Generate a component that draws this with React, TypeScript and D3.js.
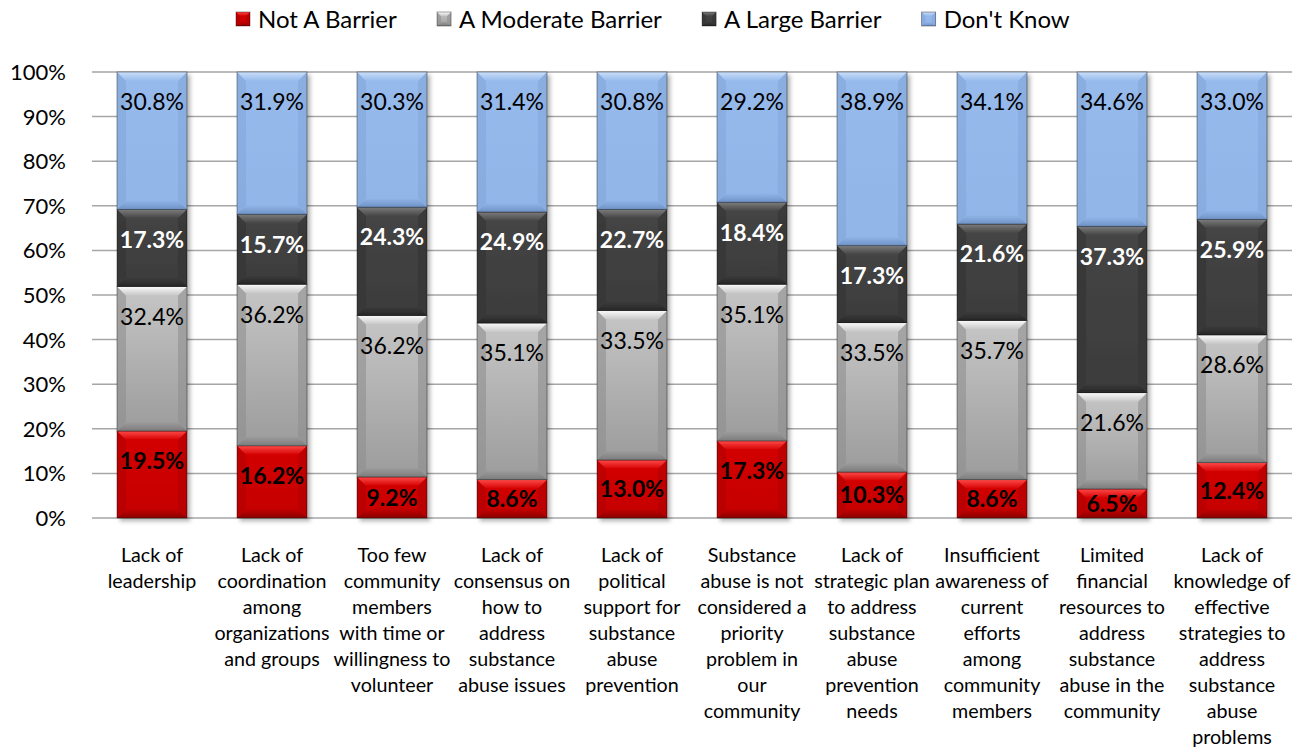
import React, { useEffect, useRef } from 'react';
import * as d3 from 'd3';

// Chart data
const categories: string[][] = [
  ['Lack of', 'leadership'],
  ['Lack of', 'coordination', 'among', 'organizations', 'and groups'],
  ['Too few', 'community', 'members', 'with time or', 'willingness to', 'volunteer'],
  ['Lack of', 'consensus on', 'how to', 'address', 'substance', 'abuse issues'],
  ['Lack of', 'political', 'support for', 'substance', 'abuse', 'prevention'],
  ['Substance', 'abuse is not', 'considered a', 'priority', 'problem in', 'our', 'community'],
  ['Lack of', 'strategic plan', 'to address', 'substance', 'abuse', 'prevention', 'needs'],
  ['Insufficient', 'awareness of', 'current', 'efforts', 'among', 'community', 'members'],
  ['Limited', 'financial', 'resources to', 'address', 'substance', 'abuse in the', 'community'],
  ['Lack of', 'knowledge of', 'effective', 'strategies to', 'address', 'substance', 'abuse', 'problems'],
];

const seriesNames = ['Not A Barrier', 'A Moderate Barrier', 'A Large Barrier', "Don't Know"];

const notABarrier = [19.5, 16.2, 9.2, 8.6, 13.0, 17.3, 10.3, 8.6, 6.5, 12.4];
const moderateBarrier = [32.4, 36.2, 36.2, 35.1, 33.5, 35.1, 33.5, 35.7, 21.6, 28.6];
const largeBarrier = [17.3, 15.7, 24.3, 24.9, 22.7, 18.4, 17.3, 21.6, 37.3, 25.9];
const dontKnow = [30.8, 31.9, 30.3, 31.4, 30.8, 29.2, 38.9, 34.1, 34.6, 33.0];

const yTicks = [0, 0.1, 0.2, 0.3, 0.4, 0.5, 0.6, 0.7, 0.8, 0.9, 1];

// bevel palette per series
const palette = [
  { hi: '#ff4a4a', top: '#d40000', bot: '#c40000', lo: '#8c0000', side: '#b00000', text: '#000', bold: true },
  { hi: '#fbfbfb', top: '#c6c6c6', bot: '#9c9c9c', lo: '#7c7c7c', side: '#8f8f8f', text: '#000', bold: false },
  { hi: '#7c7c7c', top: '#454545', bot: '#3c3c3c', lo: '#262626', side: '#333333', text: '#fff', bold: true },
  { hi: '#c9def9', top: '#97baec', bot: '#92b5e8', lo: '#6f93c6', side: '#84a7da', text: '#000', bold: false },
];

const FONT = 'Lato, "Open Sans", sans-serif';

type Seg = { x: number; y: number; w: number; h: number };

function drawBevel(g: d3.Selection<SVGGElement, unknown, null, undefined>, s: Seg, si: number, bv: number) {
  const p = palette[si];
  const b = Math.min(bv, s.h / 2);
  const { x, y, w, h } = s;
  g.append('rect')
    .attr('x', x).attr('y', y).attr('width', w).attr('height', h)
    .attr('fill', `url(#base-${si})`);
  // sides
  g.append('polygon')
    .attr('points', [[x, y], [x + b, y + b], [x + b, y + h - b], [x, y + h]].join(' '))
    .attr('fill', p.side).attr('opacity', 0.6);
  g.append('polygon')
    .attr('points', [[x + w, y], [x + w - b, y + b], [x + w - b, y + h - b], [x + w, y + h]].join(' '))
    .attr('fill', p.side).attr('opacity', 0.6);
  // top highlight
  g.append('polygon')
    .attr('points', [[x, y], [x + w, y], [x + w - b, y + b], [x + b, y + b]].join(' '))
    .attr('fill', `url(#hi-${si})`);
  // bottom shade
  g.append('polygon')
    .attr('points', [[x, y + h], [x + w, y + h], [x + w - b, y + h - b], [x + b, y + h - b]].join(' '))
    .attr('fill', `url(#lo-${si})`);
  g.append('rect')
    .attr('x', x).attr('y', y).attr('width', w).attr('height', h)
    .attr('fill', 'none').attr('stroke', 'rgba(0,0,0,0.45)').attr('stroke-width', 0.8);
}

const App: React.FC = () => {
  const svgRef = useRef<SVGSVGElement>(null);

  useEffect(() => {
    if (!svgRef.current) return;
    const svg = d3.select(svgRef.current);
    svg.selectAll('*').remove();

    const margin = { left: 92, right: 1292, top: 72, bottom: 518 };

    const x = d3.scaleBand<number>()
      .domain(d3.range(categories.length))
      .range([margin.left, margin.right])
      .paddingInner(0.4167)
      .paddingOuter(0.2083);
    const y = d3.scaleLinear().domain([0, 1]).range([margin.bottom, margin.top]);

    const rows = categories.map((_, i) => ({
      i,
      s0: notABarrier[i], s1: moderateBarrier[i], s2: largeBarrier[i], s3: dontKnow[i],
    }));
    const stack = d3.stack<any>().keys(['s0', 's1', 's2', 's3']).offset(d3.stackOffsetExpand);
    const layers = stack(rows);

    // defs: gradients and shadow
    const defs = svg.append('defs');
    palette.forEach((p, si) => {
      const base = defs.append('linearGradient').attr('id', `base-${si}`).attr('x1', 0).attr('y1', 0).attr('x2', 0).attr('y2', 1);
      base.append('stop').attr('offset', '0%').attr('stop-color', p.top);
      base.append('stop').attr('offset', '100%').attr('stop-color', p.bot);
      const hi = defs.append('linearGradient').attr('id', `hi-${si}`).attr('x1', 0).attr('y1', 0).attr('x2', 0).attr('y2', 1);
      hi.append('stop').attr('offset', '0%').attr('stop-color', p.hi);
      hi.append('stop').attr('offset', '100%').attr('stop-color', p.top);
      const lo = defs.append('linearGradient').attr('id', `lo-${si}`).attr('x1', 0).attr('y1', 0).attr('x2', 0).attr('y2', 1);
      lo.append('stop').attr('offset', '0%').attr('stop-color', p.bot);
      lo.append('stop').attr('offset', '100%').attr('stop-color', p.lo);
    });
    const f = defs.append('filter').attr('id', 'shadow').attr('x', '-20%').attr('y', '-5%').attr('width', '140%').attr('height', '115%');
    f.append('feDropShadow').attr('dx', 3).attr('dy', 3).attr('stdDeviation', 2.2)
      .attr('flood-color', '#000').attr('flood-opacity', 0.3);

    // gridlines
    svg.append('g')
      .selectAll('line')
      .data(yTicks)
      .join('line')
      .attr('x1', margin.left).attr('x2', margin.right)
      .attr('y1', d => y(d)).attr('y2', d => y(d))
      .attr('stroke', '#a6a6a6').attr('stroke-width', 1.5);

    // y tick labels
    svg.append('g')
      .selectAll('text')
      .data(yTicks)
      .join('text')
      .attr('x', 66).attr('y', d => y(d))
      .attr('dy', '0.36em')
      .attr('text-anchor', 'end')
      .style('font', `22px ${FONT}`)
      .attr('fill', '#000')
      .text(d => d3.format('.0%')(d));

    // bars
    const barsG = svg.append('g');
    rows.forEach((r, i) => {
      const g = barsG.append('g').attr('filter', 'url(#shadow)');
      layers.forEach((layer, si) => {
        const d = layer[i];
        const y0 = y(d[1]);
        const y1 = y(d[0]);
        drawBevel(g, { x: x(i)!, y: y0, w: x.bandwidth(), h: y1 - y0 }, si, 9);
      });
    });

    // value labels
    const labelsG = svg.append('g').attr('text-anchor', 'middle');
    const vals = [notABarrier, moderateBarrier, largeBarrier, dontKnow];
    layers.forEach((layer, si) => {
      layer.forEach((d, i) => {
        const top = y(d[1]);
        const h = y(d[0]) - top;
        labelsG.append('text')
          .attr('x', x(i)! + x.bandwidth() / 2)
          .attr('y', top + Math.min(30, h / 2))
          .attr('dy', '0.36em')
          .style('font', `${palette[si].bold ? 'bold ' : ''}23px ${FONT}`)
          .attr('fill', palette[si].text)
          .text(vals[si][i].toFixed(1) + '%');
      });
    });

    // category labels
    const catG = svg.append('g').attr('text-anchor', 'middle');
    categories.forEach((lines, i) => {
      const t = catG.append('text')
        .attr('x', x(i)! + x.bandwidth() / 2)
        .attr('y', 562)
        .style('font', `19.7px ${FONT}`)
        .attr('fill', '#000');
      lines.forEach((ln, k) => {
        t.append('tspan').attr('x', x(i)! + x.bandwidth() / 2).attr('dy', k === 0 ? 0 : 26).text(ln);
      });
    });

    // legend
    const legend = svg.append('g');
    const items = seriesNames.map((name, si) => {
      const g = legend.append('g');
      const bg = g.append('g');
      drawBevel(bg, { x: 0, y: 12, w: 14, h: 14 }, si, 4);
      g.append('text')
        .attr('x', 22).attr('y', 19).attr('dy', '0.36em')
        .style('font', `24px ${FONT}`)
        .attr('fill', '#000')
        .text(name);
      return g;
    });
    const gap = 40;
    const widths = items.map(g => (g.node() as SVGGElement).getBBox().width);
    let cx = 236;
    items.forEach((g, k) => {
      g.attr('transform', `translate(${cx},0)`);
      cx += widths[k] + gap;
    });
  }, []);

  return (
    <svg
      ref={svgRef}
      width={1305}
      height={750}
      style={{ position: 'absolute', left: 0, top: 0, background: '#fff' }}
    />
  );
};

export default App;
